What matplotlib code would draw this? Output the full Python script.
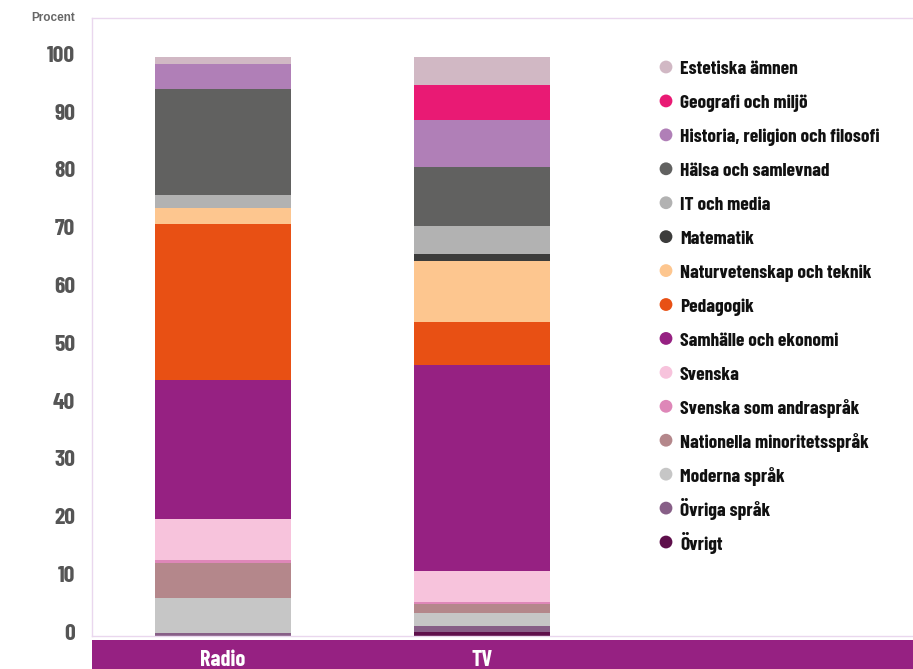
import matplotlib.pyplot as plt
from matplotlib import font_manager as fm
from matplotlib.transforms import ScaledTranslation
import numpy as np

# smalt, fett typsnitt om det finns, annars DejaVu
kandidater = ['Barlow Condensed', 'Roboto Condensed', 'Archivo Narrow', 'Liberation Sans Narrow', 'DejaVu Sans Condensed']
fetta = {f.name for f in fm.fontManager.ttflist if (f.weight if isinstance(f.weight, int) else 400) >= 600 or f.weight == 'bold'}
smal = next((n for n in kandidater if n in fetta), 'DejaVu Sans')
plt.rcParams['font.family'] = [smal, 'DejaVu Sans']

media = ['Radio', 'TV']

# kategorier nedifrån och upp i stapeln
kategorier = ['Övrigt', 'Övriga språk', 'Moderna språk', 'Nationella minoritetsspråk',
              'Svenska som andraspråk', 'Svenska', 'Samhälle och ekonomi', 'Pedagogik',
              'Naturvetenskap och teknik', 'Matematik', 'IT och media', 'Hälsa och samlevnad',
              'Historia, religion och filosofi', 'Geografi och miljö', 'Estetiska ämnen']

radio = [0.0, 0.5, 6.1, 6.1, 0.5, 7.1, 23.9, 27.0, 2.9, 0.0, 2.1, 18.5, 4.2, 0.0, 1.2]
tv = [0.7, 1.0, 2.2, 1.6, 0.4, 5.4, 35.5, 7.6, 10.4, 1.2, 5.0, 10.2, 8.0, 6.1, 4.8]

farger = ['#5E0F4B', '#875F87', '#C6C6C6', '#B4878B', '#DE87B8', '#F7C3DC', '#962182',
          '#E85014', '#FDC68F', '#3C3C3B', '#B2B2B2', '#616160', '#B07FB7', '#E91A74', '#D1B8C4']

lila = '#962182'
kant = '#EAD7EE'

fig = plt.figure(figsize=(9.13, 6.69), dpi=100)
ax = fig.add_axes([92/913, 33/669, 821/913, 618/669])

x = np.arange(len(media))
botten = np.zeros(len(media))
for i, kat in enumerate(kategorier):
    varden = np.array([radio[i], tv[i]])
    ax.bar(x, varden, width=0.525, bottom=botten, color=farger[i], linewidth=0, label=kat)
    botten += varden

ax.set_xlim(-0.506, 2.664)
ax.set_ylim(0, 106.9)
ax.set_yticks(range(0, 101, 10))
ax.set_xticks([])
ax.tick_params(axis='y', length=0, pad=12, labelsize=17, labelcolor='#555555')
upp = ScaledTranslation(0, 3/72, fig.dpi_scale_trans)
for t in ax.get_yticklabels():
    t.set_fontweight('bold')
    t.set_transform(t.get_transform() + upp)
for s in ['left', 'top', 'bottom']:
    ax.spines[s].set_color(kant)
    ax.spines[s].set_linewidth(1)
ax.spines['right'].set_visible(False)

fig.text(75/913, 1 - 18/669, 'Procent', ha='right', va='center', fontsize=8.5,
         color='#666666', family='Liberation Sans', fontweight='bold')

# lila band med etiketter
band = fig.add_axes([92/913, 0, 821/913, 29/669], sharex=ax)
band.set_facecolor(lila)
band.set_xticks([])
band.set_yticks([])
for s in band.spines.values():
    s.set_visible(False)
for xi, namn in zip(x, media):
    band.text(xi, 0.3, namn, ha='center', va='center', color='white',
              fontsize=16, fontweight='bold', transform=band.get_xaxis_transform())

# förklaring, ritad i pixelkoordinater
lg = fig.add_axes([0, 0, 1, 1], facecolor='none')
lg.set_xlim(0, 913)
lg.set_ylim(669, 0)
lg.axis('off')
for rad, i in enumerate(range(len(kategorier) - 1, -1, -1)):
    y = 67 + rad * 33.93
    lg.scatter([666], [y], s=85, color=farger[i], edgecolors='none')
    lg.text(680, y + 7.5, kategorier[i], ha='left', va='baseline', fontsize=14,
            fontweight='bold', color='#111111')

fig.savefig('out.png', dpi=100)
